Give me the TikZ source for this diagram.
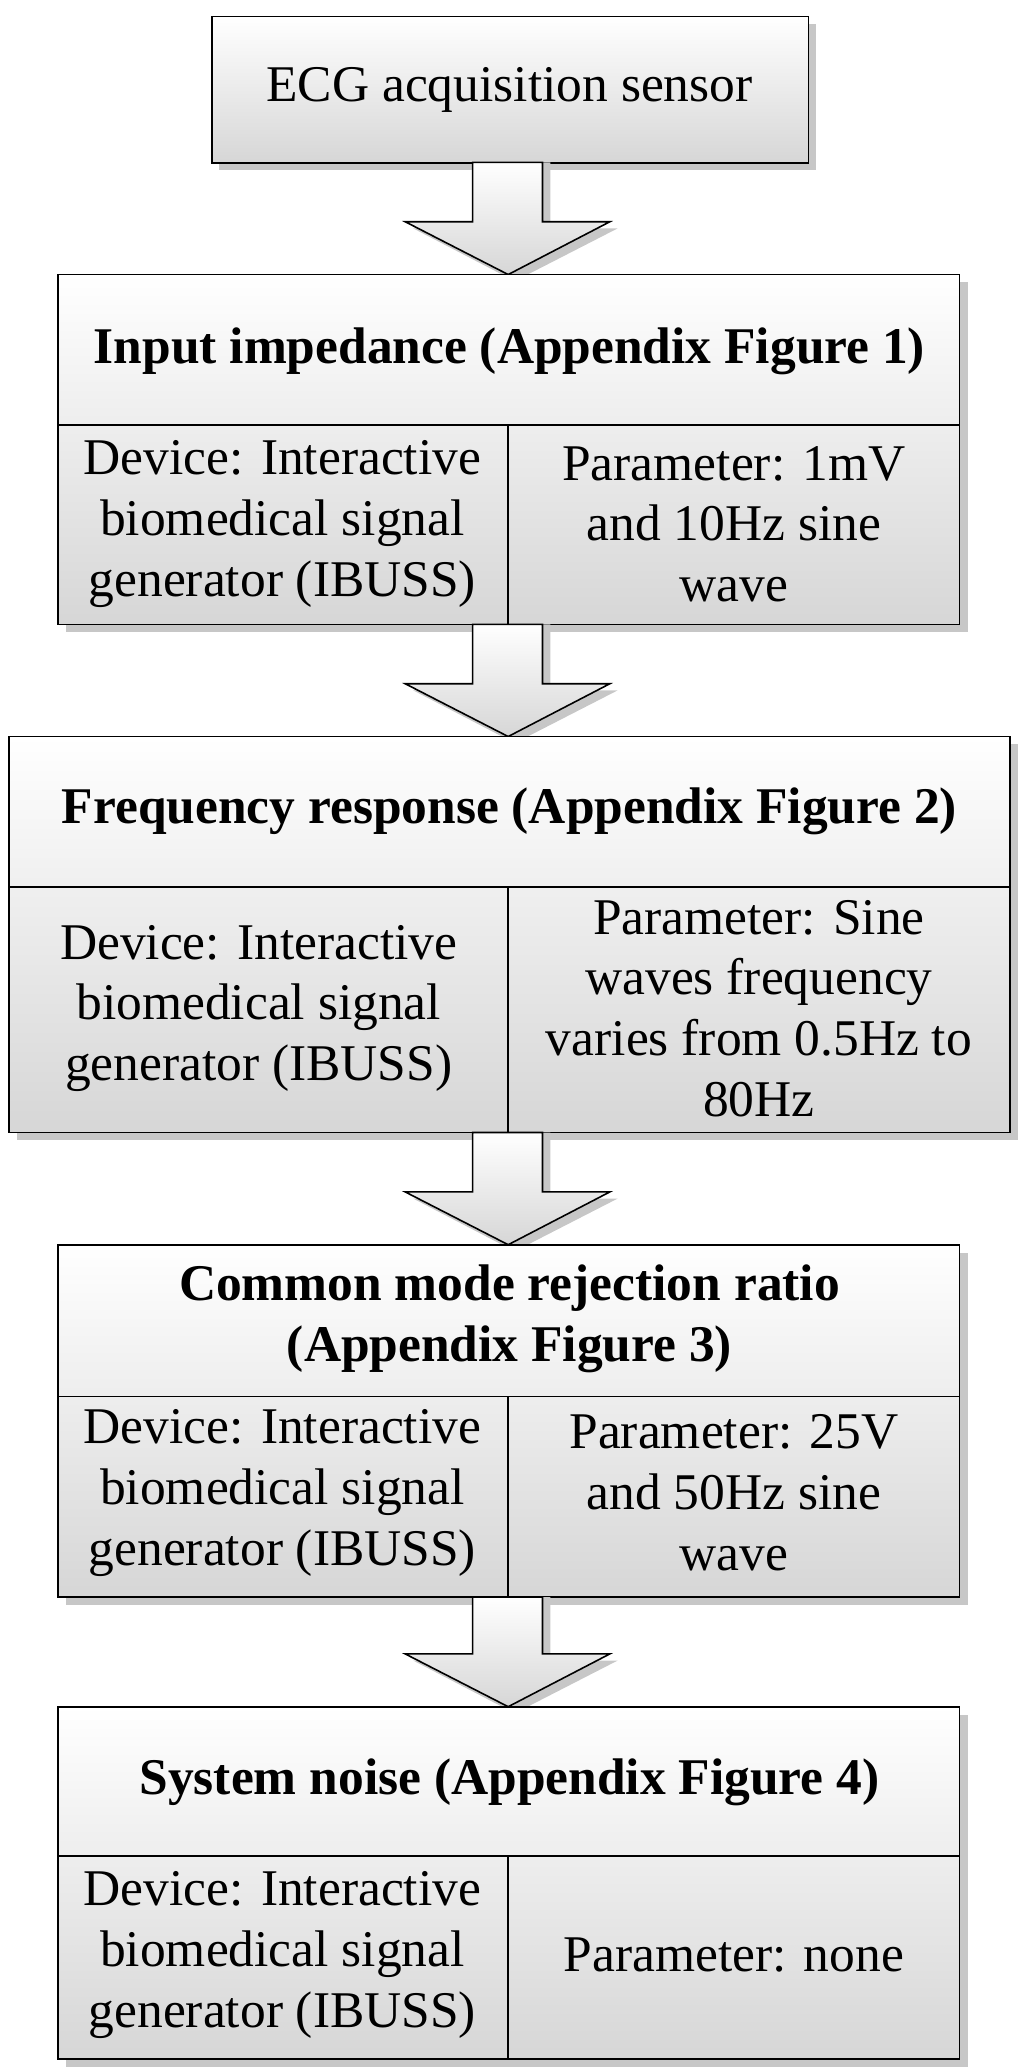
\documentclass[tikz,border=0pt]{standalone}
\usepackage{fontspec}
\setmainfont{Liberation Serif}
\begin{document}
\begin{tikzpicture}[x=1pt,y=-1pt,
  box/.style={draw=black,line width=1.2pt,top color=white,bottom color=black!16},
  shadow/.style={fill=black!22,draw=none},
  txt/.style={align=center,font=\fontsize{39}{46}\selectfont,inner sep=0pt},
  ttl/.style={txt,font=\fontsize{39}{46}\selectfont\bfseries},
  arr/.style={draw=black,line width=1.2pt,top color=white,bottom color=black!16}]
\useasboundingbox (0,0) rectangle (776,1569);
\newcommand\blockarrow[2]{%
  \fill[shadow] (364,#1) -- (417,#1) -- (417,#2-35) -- (468,#2-35) -- (390,#2+5) -- (313,#2-35) -- (364,#2-35) -- cycle;
  \path[arr] (358,#1) -- (411,#1) -- (411,#2-40) -- (462,#2-40) -- (385,#2) -- (307,#2-40) -- (358,#2-40) -- cycle;}
\foreach \a/\b/\c/\d in {160/12/612/123, 44/208/727/473, 7/558/765/858, 44/943/727/1210, 44/1293/727/1560}
  \fill[shadow] (\a+6,\b+6) rectangle (\c+6,\d+6);
\node[box,minimum width=452pt,minimum height=111pt,anchor=north west] (b0) at (160,12) {};
\node[txt] (t0) at (386,68) {ECG acquisition sensor};
\blockarrow{123}{208}
\path[box] (44,208) rectangle (727,473);
\draw[line width=1.2pt] (44,322) -- (727,322) (385,322) -- (385,473);
\node[ttl] (t1) at (386,266) {Input impedance (Appendix Figure 1)};
\node[txt] (l1) at (214,397) {Device: Interactive\\biomedical signal\\generator (IBUSS)};
\node[txt] (r1) at (556,397) {Parameter: 1mV\\and 10Hz sine\\wave};
\blockarrow{473}{558}
\path[box] (7,558) rectangle (765,858);
\draw[line width=1.2pt] (7,672) -- (765,672) (385,672) -- (385,858);
\node[ttl] (t2) at (386,615) {Frequency response (Appendix Figure 2)};
\node[txt] (l2) at (196,764) {Device: Interactive\\biomedical signal\\generator (IBUSS)};
\node[txt] (r2) at (575,764) {Parameter: Sine\\waves frequency\\varies from 0.5Hz to\\80Hz};
\blockarrow{858}{943}
\path[box] (44,943) rectangle (727,1210);
\draw[line width=1.2pt] (44,1058) -- (727,1058) (385,1058) -- (385,1210);
\node[ttl] (t3) at (386,999) {Common mode rejection ratio\\(Appendix Figure 3)};
\node[txt] (l3) at (214,1131) {Device: Interactive\\biomedical signal\\generator (IBUSS)};
\node[txt] (r3) at (556,1131) {Parameter: 25V\\and 50Hz sine\\wave};
\blockarrow{1210}{1293}
\path[box] (44,1293) rectangle (727,1560);
\draw[line width=1.2pt] (44,1406) -- (727,1406) (385,1406) -- (385,1560);
\node[ttl] (t4) at (386,1350) {System noise (Appendix Figure 4)};
\node[txt] (l4) at (214,1481) {Device: Interactive\\biomedical signal\\generator (IBUSS)};
\node[txt] (r4) at (556,1481) {Parameter: none};
\end{tikzpicture}
\end{document}
